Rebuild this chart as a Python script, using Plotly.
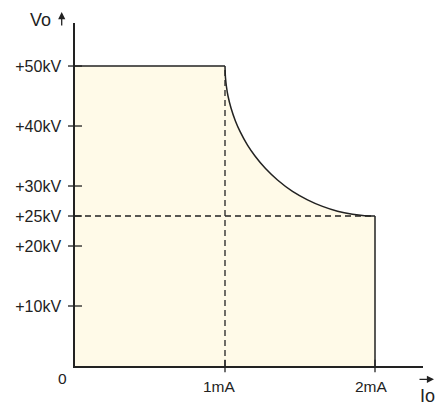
import plotly.graph_objects as go

# ---- data ----
flat_i = [0.0, 1.0]            # mA, constant-voltage segment
flat_v = [50.0, 50.0]          # kV
curve_i = [1.000, 1.003, 1.01, 1.02, 1.04, 1.07, 1.10, 1.15, 1.20, 1.27,
           1.35, 1.45, 1.55, 1.65, 1.75, 1.85, 1.93, 2.00]
curve_v = [50.0, 48.1, 46.5, 45.0, 43.0, 40.8, 39.1, 36.8, 35.0, 32.9,
           31.0, 29.1, 27.7, 26.6, 25.8, 25.3, 25.06, 25.0]
edge_i = [2.0, 2.0]
edge_v = [25.0, 0.0]
ref_v = 25.0                   # dashed horizontal reference (kV)
ref_i = 1.0                    # dashed vertical reference (mA)
ytick_vals = [10, 20, 25, 30, 40, 50]
ytick_text = ["+10kV", "+20kV", "+25kV", "+30kV", "+40kV", "+50kV"]
xtick_vals = [1, 2]
xtick_text = ["1mA", "2mA"]

INK = "#222222"
FILL = "#FFFAE8"
FONT = "Liberation Sans, Arial, sans-serif"

fig = go.Figure()

# filled operating region
poly_i = [0.0] + flat_i + curve_i[1:] + edge_i[1:] + [0.0]
poly_v = [0.0] + flat_v + curve_v[1:] + edge_v[1:] + [0.0]
fig.add_trace(go.Scatter(x=poly_i, y=poly_v, mode="lines", fill="toself",
                         fillcolor=FILL, line=dict(width=0), hoverinfo="skip"))

# dashed reference lines
fig.add_trace(go.Scatter(x=[0, edge_i[0]], y=[ref_v, ref_v], mode="lines",
                         line=dict(color=INK, width=1.3, dash="6px,4px"), cliponaxis=False))
fig.add_trace(go.Scatter(x=[ref_i, ref_i], y=[0, flat_v[1]], mode="lines",
                         line=dict(color=INK, width=1.3, dash="6px,4px"), cliponaxis=False))

# outline
fig.add_trace(go.Scatter(x=flat_i, y=flat_v, mode="lines",
                         line=dict(color=INK, width=1.5), cliponaxis=False))
fig.add_trace(go.Scatter(x=curve_i, y=curve_v, mode="lines",
                         line=dict(color=INK, width=1.5, shape="spline"), cliponaxis=False))
fig.add_trace(go.Scatter(x=edge_i, y=edge_v, mode="lines",
                         line=dict(color=INK, width=1.5), cliponaxis=False))

# tick marks (crossing the axes)
fig.add_trace(go.Scatter(x=[0] * len(ytick_vals), y=ytick_vals, mode="markers",
                         marker=dict(symbol="line-ew", size=10, line=dict(color=INK, width=1.3)),
                         cliponaxis=False))
fig.add_trace(go.Scatter(x=xtick_vals, y=[0] * len(xtick_vals), mode="markers",
                         marker=dict(symbol="line-ns", size=9, line=dict(color=INK, width=1.3)),
                         cliponaxis=False))

annotations = []
for xv, xt, sh in zip(xtick_vals, xtick_text, [-6, -4]):
    annotations.append(dict(x=xv, y=0, xref="x", yref="y", text=xt, showarrow=False,
                            xanchor="center", yanchor="middle",
                            xshift=sh, yshift=-20, font=dict(size=15.5, color=INK, family=FONT)))
annotations.append(dict(x=0, y=0, xref="x", yref="y", text="0", showarrow=False,
                        xanchor="center", yanchor="middle",
                        xshift=-12.5, yshift=-12, font=dict(size=15.5, color=INK, family=FONT)))
annotations.append(dict(x=-0.0991, y=1.0087, xref="paper", yref="paper", text="Vo",
                        xanchor="center", yanchor="middle",
                        showarrow=False, font=dict(size=18, color=INK, family=FONT)))
annotations.append(dict(x=1.013, y=-0.0875, xref="paper", yref="paper", text="Io",
                        xanchor="center", yanchor="middle",
                        showarrow=False, font=dict(size=18, color=INK, family=FONT)))
# axis arrows
annotations.append(dict(x=-0.0382, y=1.032, xref="paper", yref="paper", ax=0, ay=15,
                        showarrow=True, arrowhead=2, arrowsize=1.1, arrowwidth=1.3,
                        arrowcolor=INK, text=""))
annotations.append(dict(x=1.0316, y=-0.0388, xref="paper", yref="paper", ax=-16, ay=0,
                        showarrow=True, arrowhead=2, arrowsize=1.1, arrowwidth=1.3,
                        arrowcolor=INK, text=""))

fig.update_layout(
    width=435, height=405,
    margin=dict(l=75, r=12, t=23, b=39),
    paper_bgcolor="white", plot_bgcolor="white",
    showlegend=False,
    annotations=annotations,
    font=dict(family=FONT, color=INK, size=15),
    xaxis=dict(range=[0, 2.32], showgrid=False, zeroline=False, showline=True,
               linecolor=INK, linewidth=1.5, showticklabels=False, ticks="",
               fixedrange=True),
    yaxis=dict(range=[0, 57.17], showgrid=False, zeroline=False, showline=True,
               linecolor=INK, linewidth=1.5, ticks="", tickvals=ytick_vals,
               ticktext=ytick_text, ticklabelstandoff=9,
               tickfont=dict(size=16, color=INK, family=FONT), fixedrange=True),
)

fig.write_html("out.html", config={"displayModeBar": False},
               post_script="document.body.style.margin='0';document.body.style.padding='0';")
